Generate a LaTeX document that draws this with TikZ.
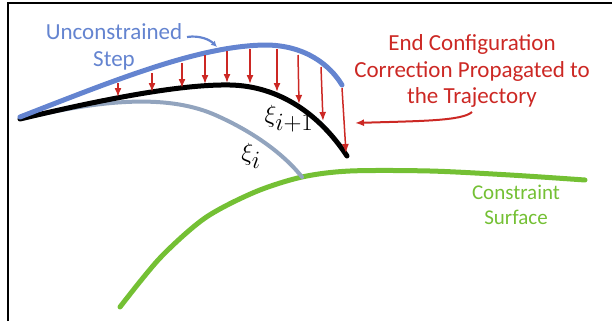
\documentclass[tikz,border=0pt]{standalone}
\usepackage{fontspec}
\setmainfont{Carlito}
\usetikzlibrary{arrows.meta}
\definecolor{stepblue}{RGB}{100,132,208}
\definecolor{fixred}{RGB}{204,40,36}
\definecolor{surfgreen}{RGB}{116,192,52}
\definecolor{oldgray}{RGB}{146,164,190}

\begin{document}
\begin{tikzpicture}[
  x=1pt,y=-1pt,
  >={Latex[length=9pt,width=7pt]},
  curve/.style ={line width=5pt,line cap=round,line join=round},
  corr/.style  ={->,draw=fixred,line width=1.5pt},
  lbl/.style   ={font=\fontsize{23}{26.5}\selectfont,align=center,inner sep=0pt},
  xilab/.style ={font=\fontsize{35}{36}\selectfont,inner sep=0pt},
]
\useasboundingbox (0,0) rectangle (612,321);

% ===================== frame =============================================
\draw[line width=1.5pt] (8,321) -- (8,3) -- (612,3);

% ===================== curves ============================================
% Constraint surface
\draw[curve,surfgreen] plot[smooth] coordinates
  {(120,307) (160,258) (205,218) (255,192) (302,177) (350,171)
   (430,171) (510,175) (585,180)};

% Previous trajectory, runs under the corrected one at the start
\draw[curve,oldgray,line width=4pt]
  (20,119) .. controls (100,100) and (165,94) .. (213,114)
           .. controls (250,130) and (282,152) .. (302,177);

% Corrected trajectory
\draw[curve,black]
  (20,119) .. controls (100,100) and (180,84) .. (230,85)
           .. controls (280,86) and (320,115) .. (347,156);

% Unconstrained step
\draw[curve,stepblue]
  (20,117) .. controls (120,78) and (200,46) .. (265,45)
           .. controls (305,45) and (330,65) .. (342,85);

% ===================== correction arrows =================================
\foreach \xa/\ya/\xb/\yb in {118/83/118/97, 152/73/152/92, 182/63/182/88,
    205/55/205/84, 227/51/227/83, 250/49/250/84, 277/49/277/92,
    298/55/299/104, 321/67/323/121, 342/88/346/153}
  \draw[corr] (\xa,\ya) -- (\xb,\yb);

% ===================== labels ============================================
\node[lbl,text=stepblue] (UStep) at (114,47) {Unconstrained\\Step};
\coordinate (UTail) at (187,37);
\coordinate (UPt) at (217,47);
\draw[->,stepblue,line width=2.2pt,>={Latex[length=6pt,width=6pt]}]
  (UTail) .. controls (200,35) and (210,40) .. (UPt);

\node[lbl,text=fixred] (ECfg) at (472,71)
  {End Configuration\\Correction Propagated to\\the Trajectory};
\coordinate (ETail) at (472,112);
\coordinate (EPt) at (355,123);
\draw[->,fixred,line width=2pt]
  (ETail) .. controls (462,121) and (420,121) .. (EPt);

\node[lbl,text=surfgreen,font=\fontsize{21}{24.5}\selectfont] (CSurf)
  at (516,205) {Constraint\\Surface};

\node[xilab] (XiN) at (289,119) {$\xi_{i+1}$};
\node[xilab] (XiI) at (251,156) {$\xi_{i}$};

\end{tikzpicture}
\end{document}
